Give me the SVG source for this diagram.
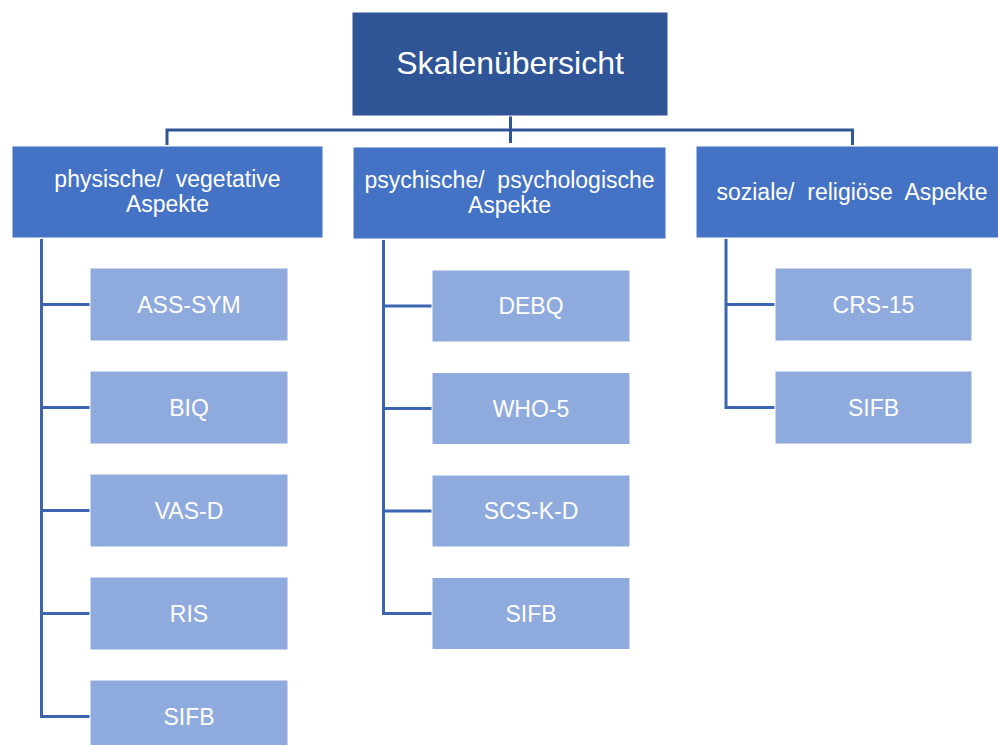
<svg xmlns="http://www.w3.org/2000/svg" width="998" height="745" viewBox="0 0 998 745">
<style>
text{font-family:"Liberation Sans",Arial,sans-serif;fill:#fff;text-anchor:middle}
.top{fill:#2F5597;stroke:#fff;stroke-width:1}
.l2{fill:#4472C4;stroke:#fff;stroke-width:1}
.ch{fill:#8FAADC;stroke:#fff;stroke-width:1}
.t1{font-size:32px}
.t2{font-size:23px}
.t3{font-size:23px}
.cn{fill:none;stroke:#3B64B1;stroke-width:3}
.cn0{fill:none;stroke:#2F5597;stroke-width:3}
</style>
<rect width="998" height="745" fill="#fff"/>
<g id="connectors">
<path class="cn0" d="M510.5 116 V143 M167 145 V130 H852.5 V145"/>
<path class="cn" d="M41.5 239 V716.5 H90 M41.5 304.5 H90 M41.5 407.5 H90 M41.5 510.5 H90 M41.5 613.5 H90"/>
<path class="cn" d="M383.5 240 V613.5 H432 M383.5 306 H432 M383.5 408.5 H432 M383.5 511 H432"/>
<path class="cn" d="M726 239 V407.5 H775 M726 304.5 H775"/>
</g>
<g id="root"><rect class="top" x="352" y="12" width="316" height="104"/><text class="t1" x="510" y="74">Skalenübersicht</text></g>
<g id="physisch"><rect class="l2" x="12" y="146" width="311" height="92"/><text class="t2" x="167.5" y="187" xml:space="preserve">physische/  vegetative</text><text class="t2" x="167.5" y="211.5">Aspekte</text></g>
<g id="psychisch"><rect class="l2" x="353" y="147" width="313" height="92"/><text class="t2" x="509.5" y="188" xml:space="preserve">psychische/  psychologische</text><text class="t2" x="509.5" y="212.5">Aspekte</text></g>
<g id="sozial"><rect class="l2" x="696" y="146" width="314" height="92"/><text class="t2" x="852" y="200" xml:space="preserve">soziale/  religiöse  Aspekte</text></g>
<g id="ass-sym"><rect class="ch" x="90" y="268" width="198" height="73"/><text class="t3" x="189" y="312.5">ASS-SYM</text></g>
<g id="biq"><rect class="ch" x="90" y="371" width="198" height="73"/><text class="t3" x="189" y="415.5">BIQ</text></g>
<g id="vas-d"><rect class="ch" x="90" y="474" width="198" height="73"/><text class="t3" x="189" y="518.5">VAS-D</text></g>
<g id="ris"><rect class="ch" x="90" y="577" width="198" height="73"/><text class="t3" x="189" y="621.5">RIS</text></g>
<g id="sifb1"><rect class="ch" x="90" y="680" width="198" height="73"/><text class="t3" x="189" y="724.5">SIFB</text></g>
<g id="debq"><rect class="ch" x="432" y="270" width="198" height="72"/><text class="t3" x="531" y="314">DEBQ</text></g>
<g id="who-5"><rect class="ch" x="432" y="372.5" width="198" height="72"/><text class="t3" x="531" y="416.5">WHO-5</text></g>
<g id="scs-k-d"><rect class="ch" x="432" y="475" width="198" height="72"/><text class="t3" x="531" y="519">SCS-K-D</text></g>
<g id="sifb2"><rect class="ch" x="432" y="577.5" width="198" height="72"/><text class="t3" x="531" y="621.5">SIFB</text></g>
<g id="crs-15"><rect class="ch" x="775" y="268" width="197" height="73"/><text class="t3" x="873.5" y="312.5">CRS-15</text></g>
<g id="sifb3"><rect class="ch" x="775" y="371" width="197" height="73"/><text class="t3" x="873.5" y="415.5">SIFB</text></g>
</svg>
